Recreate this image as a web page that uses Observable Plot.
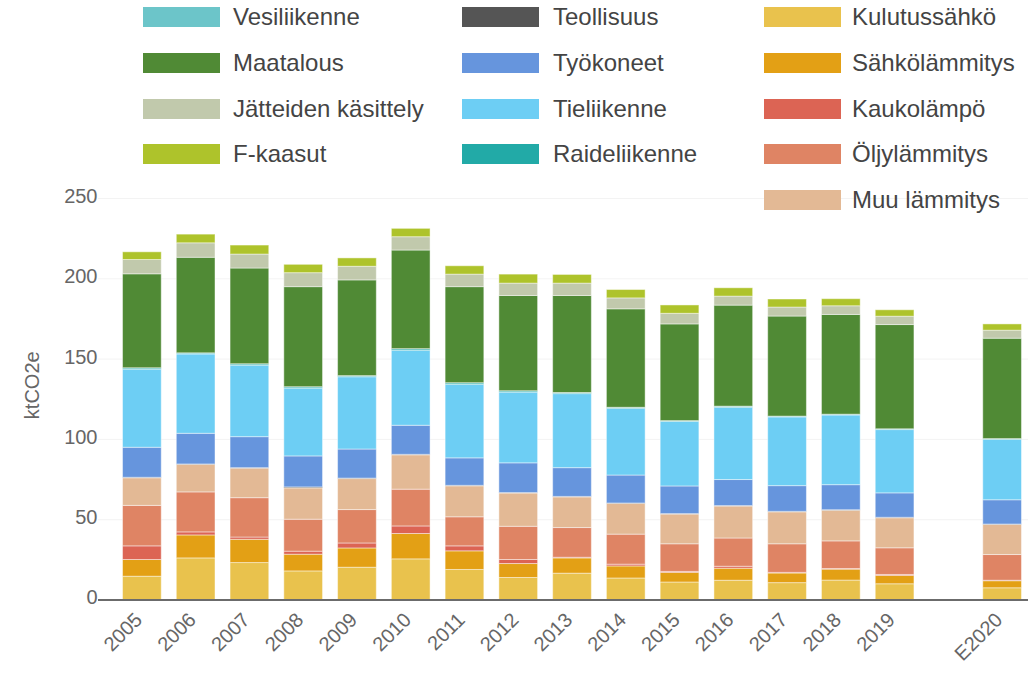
<!DOCTYPE html>
<html>
<head>
<meta charset="utf-8">
<script src="https://cdn.jsdelivr.net/npm/d3@7"></script>
<script src="https://cdn.jsdelivr.net/npm/@observablehq/plot@0.6"></script>
<style>
  html, body { margin: 0; padding: 0; background: #ffffff; }
  body { width: 1030px; height: 674px; overflow: hidden; font-family: "Liberation Sans", Arial, sans-serif; }
  #legend { position: relative; width: 1030px; height: 175px; z-index: 2; }
  .item { position: absolute; height: 20px; }
  .sw { position: absolute; left: 0; top: 0; width: 77px; height: 20px; }
  .lab { position: absolute; top: 10px; transform: translateY(-50%); white-space: nowrap; font-size: 24px; color: #444; line-height: 1; }
  #chart { position: relative; z-index: 1; }
</style>
</head>
<body>
<div id="legend"></div>
<div id="chart"></div>
<script>
// ---- data (ktCO2e) ----
const years = ["2005","2006","2007","2008","2009","2010","2011","2012","2013","2014","2015","2016","2017","2018","2019","E2020"];
const xDomain = ["2005","2006","2007","2008","2009","2010","2011","2012","2013","2014","2015","2016","2017","2018","2019"," ","E2020"];

const kulutussahko  = [14.5, 25.9, 23.0, 17.8, 20.1, 25.3, 18.7, 13.7, 16.4, 13.4, 10.9, 12.0, 10.5, 12.1, 9.8, 7.3];
const sahkolammitys = [10.4, 14.3, 14.5, 10.4, 12.0, 15.8, 11.6, 8.7, 9.5, 7.5, 6.0, 7.5, 6.0, 6.8, 5.2, 4.4];
const kaukolampo    = [8.5, 1.9, 1.4, 1.9, 3.1, 4.7, 3.1, 2.5, 0.4, 1.1, 0.6, 1.2, 0.4, 0.4, 0.6, 0.3];
const oljylammitys  = [25.2, 24.9, 24.5, 19.9, 20.8, 22.9, 18.1, 20.7, 18.5, 18.7, 17.2, 17.6, 17.8, 17.2, 16.6, 16.0];
const muuLammitys   = [17.2, 17.1, 18.4, 19.5, 19.3, 21.4, 19.3, 20.7, 19.1, 19.1, 18.5, 19.9, 19.9, 19.1, 18.7, 18.7];
const teollisuus    = [0.3, 0.3, 0.3, 0.6, 0.3, 0.3, 0.3, 0.3, 0.3, 0.3, 0.3, 0.3, 0.3, 0.3, 0.3, 0.3];
const tyokoneet     = [18.7, 19.1, 19.3, 19.3, 18.1, 18.1, 17.1, 18.5, 17.9, 17.4, 17.2, 16.2, 16.0, 15.6, 15.2, 15.1];
const tieliikenne   = [48.6, 49.4, 44.5, 42.2, 45.0, 46.7, 45.8, 44.0, 46.1, 41.5, 40.2, 45.0, 42.8, 43.4, 39.4, 37.6];
const raideliikenne = [0.8, 0.6, 0.8, 0.8, 0.6, 0.9, 0.9, 0.8, 0.6, 0.6, 0.4, 0.6, 0.4, 0.4, 0.4, 0.4];
const vesiliikenne  = [0.1, 0.1, 0.1, 0.1, 0.1, 0.1, 0.1, 0.1, 0.1, 0.1, 0.1, 0.1, 0.1, 0.1, 0.1, 0.1];
const maatalous     = [58.5, 59.5, 59.6, 62.3, 59.6, 61.4, 59.8, 59.3, 60.4, 61.3, 60.2, 62.9, 62.3, 62.1, 64.9, 62.5];
const jatteet       = [8.9, 9.0, 8.7, 8.7, 8.5, 8.3, 7.8, 7.7, 7.7, 6.8, 6.6, 5.6, 5.6, 5.4, 5.2, 5.0];
const fkaasut       = [4.8, 5.4, 5.6, 5.2, 5.2, 5.2, 5.2, 5.6, 5.4, 5.2, 5.2, 5.2, 5.0, 4.4, 4.0, 3.9];

const yTicks = [0, 50, 100, 150, 200, 250];

// stacking order, bottom to top
const stackNames = ["Kulutussähkö","Sähkölämmitys","Kaukolämpö","Öljylämmitys","Muu lämmitys","Teollisuus","Työkoneet","Tieliikenne","Raideliikenne","Vesiliikenne","Maatalous","Jätteiden käsittely","F-kaasut"];
const stackValues = [kulutussahko, sahkolammitys, kaukolampo, oljylammitys, muuLammitys, teollisuus, tyokoneet, tieliikenne, raideliikenne, vesiliikenne, maatalous, jatteet, fkaasut];
const stackColors = ["#e9c24d","#e3a015","#dc6454","#df8464","#e3b995","#555555","#6695dd","#6dcef4","#22aaa7","#6cc5c9","#508a35","#c1c9ac","#aec32b"];

// legend columns (as in the reference)
const legendColumns = [
  ["Vesiliikenne","Maatalous","Jätteiden käsittely","F-kaasut"],
  ["Teollisuus","Työkoneet","Tieliikenne","Raideliikenne"],
  ["Kulutussähkö","Sähkölämmitys","Kaukolämpö","Öljylämmitys","Muu lämmitys"]
];

// ---- table for the library ----
const rows = [];
stackNames.forEach((name, i) => {
  years.forEach((yr, j) => rows.push({year: yr, series: name, value: stackValues[i][j]}));
});

// ---- legend ----
const legend = document.getElementById("legend");
const colSwatchX = [143, 462, 764];
const colTextX = [233, 553, 852];
legendColumns.forEach((col, c) => {
  col.forEach((name, r) => {
    const item = document.createElement("div");
    item.className = "item";
    item.style.left = colSwatchX[c] + "px";
    item.style.top = (7.3 + r * 45.6) + "px";
    const sw = document.createElement("div");
    sw.className = "sw";
    sw.style.background = stackColors[stackNames.indexOf(name)];
    const lab = document.createElement("div");
    lab.className = "lab";
    lab.style.left = (colTextX[c] - colSwatchX[c]) + "px";
    lab.textContent = name;
    item.appendChild(sw);
    item.appendChild(lab);
    legend.appendChild(item);
  });
});

// ---- chart ----
const chart = Plot.plot({
  width: 1030,
  height: 499,
  marginTop: 23,
  marginBottom: 74.5,
  marginLeft: 98,
  marginRight: 2,
  style: {fontFamily: "'Liberation Sans', Arial, sans-serif", background: "transparent", color: "#666"},
  x: {domain: xDomain, range: [115, 1029], paddingInner: 0.28, paddingOuter: 0.14, round: false, axis: null},
  y: {domain: [0, 250], axis: null},
  color: {domain: stackNames, range: stackColors},
  marks: [
    Plot.gridY(yTicks, {stroke: "#eeeeee", strokeOpacity: 0.7}),
    Plot.barY(rows, {x: "year", y: "value", fill: "series", z: "series", stroke: "white", strokeWidth: 1, strokeOpacity: 0.45}),
    Plot.ruleY([0], {stroke: "#6b6b6b", strokeWidth: 2}),
    Plot.text(yTicks, {y: d => d, text: d => String(d), frameAnchor: "left", textAnchor: "end", dx: -1, dy: -2, fontSize: 20, fill: "#666"}),
    Plot.text(["ktCO2e"], {frameAnchor: "left", text: d => d, rotate: -90, textAnchor: "middle", dx: -66, dy: -14, fontSize: 20, fill: "#666"}),
    Plot.text(years, {x: d => d, text: d => d, frameAnchor: "bottom", rotate: -45, textAnchor: "end", lineAnchor: "top", dx: -9, dy: 11, fontSize: 20, fill: "#666"})
  ]
});
document.getElementById("chart").appendChild(chart);
</script>
</body>
</html>
